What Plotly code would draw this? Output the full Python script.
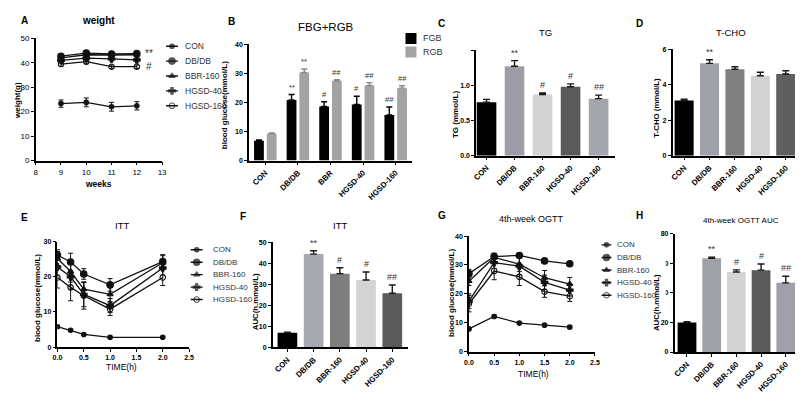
import plotly.graph_objects as go

# ---------------- data ----------------
groups = ["CON", "DB/DB", "BBR-160", "HGSD-40", "HGSD-160"]
b_cats = ["CON", "DB/DB", "BBR", "HGSD-40", "HGSD-160"]

# A: body weight
weeks = [9, 10, 11, 12]
weight_mean = {
    "CON": [23.3, 23.8, 22.0, 22.4],
    "DB/DB": [42.7, 44.0, 43.6, 43.8],
    "BBR-160": [42.0, 43.3, 43.2, 43.3],
    "HGSD-40": [41.0, 41.9, 41.6, 41.2],
    "HGSD-160": [39.5, 40.5, 38.4, 38.4],
}
weight_err = {
    "CON": [1.5, 1.8, 1.8, 1.7],
    "DB/DB": [0.8, 0.8, 0.8, 0.8],
    "BBR-160": [0.8, 0.8, 0.8, 0.8],
    "HGSD-40": [0.8, 0.8, 0.8, 0.8],
    "HGSD-160": [0.9, 0.9, 0.7, 0.7],
}
weight_marks = {"DB/DB": "**", "HGSD-160": "#"}

# B: FBG + RBG
fgb = [6.8, 20.8, 18.6, 19.3, 15.7]
fgb_err = [0.3, 1.9, 1.6, 2.8, 2.7]
rgb = [9.3, 30.3, 27.4, 25.8, 24.9]
rgb_err = [0.2, 1.2, 0.4, 1.0, 0.8]
fgb_marks = ["", "**", "#", "#", "##"]
rgb_marks = ["", "**", "##", "##", "##"]

# C: TG
tg = [0.76, 1.27, 0.87, 0.98, 0.81]
tg_err = [0.04, 0.08, 0.02, 0.04, 0.05]
tg_marks = ["", "**", "#", "#", "##"]

# D: T-CHO
tcho = [3.1, 5.2, 4.87, 4.5, 4.6]
tcho_err = [0.08, 0.2, 0.14, 0.2, 0.18]
tcho_marks = ["", "**", "", "", ""]

# E: ITT
itt_t = [0, 0.25, 0.5, 1.0, 2.0]
itt_mean = {
    "CON": [5.8, 4.8, 3.6, 2.8, 2.8],
    "DB/DB": [26.2, 24.2, 20.8, 17.7, 24.3],
    "BBR-160": [25.2, 21.5, 16.5, 15.0, 24.0],
    "HGSD-40": [22.8, 20.0, 15.0, 11.8, 22.5],
    "HGSD-160": [19.8, 17.0, 14.6, 10.8, 19.8],
}
itt_err = {
    "CON": [0.4, 0.3, 0.3, 0.3, 0.3],
    "DB/DB": [1.5, 2.5, 1.5, 1.8, 2.0],
    "BBR-160": [2.0, 3.0, 2.0, 2.0, 2.0],
    "HGSD-40": [2.5, 3.5, 3.5, 2.0, 2.0],
    "HGSD-160": [3.0, 3.8, 3.8, 1.8, 2.3],
}

# F: ITT AUC
itt_auc = [7.0, 44.4, 35.1, 32.1, 25.8]
itt_auc_err = [0.3, 1.6, 2.8, 3.8, 3.9]
itt_auc_marks = ["", "**", "#", "#", "##"]

# G: OGTT
ogtt_t = [0, 0.5, 1.0, 1.5, 2.0]
ogtt_mean = {
    "CON": [7.9, 12.2, 9.9, 9.2, 8.5],
    "DB/DB": [27.0, 32.9, 33.3, 31.4, 30.4],
    "BBR-160": [24.4, 32.6, 30.3, 25.6, 23.4],
    "HGSD-40": [17.5, 30.8, 29.6, 24.0, 21.3],
    "HGSD-160": [16.6, 27.9, 25.9, 20.8, 19.2],
}
ogtt_err = {
    "CON": [0.3, 0.5, 0.4, 0.4, 0.5],
    "DB/DB": [1.5, 0.8, 0.8, 0.8, 0.8],
    "BBR-160": [1.5, 1.5, 2.5, 2.5, 2.3],
    "HGSD-40": [2.5, 2.0, 3.0, 2.5, 2.0],
    "HGSD-160": [2.8, 3.0, 3.0, 2.0, 1.8],
}

# H: OGTT AUC
ogtt_auc = [20.0, 63.5, 54.2, 55.4, 46.8]
ogtt_auc_err = [0.5, 0.6, 1.4, 4.2, 4.5]
ogtt_auc_marks = ["", "**", "#", "#", "##"]

# ---------------- styling ----------------
W, H = 803, 393
FONT = "Liberation Sans, Arial, sans-serif"
symbols = ["circle", "circle", "triangle-up", "cross", "circle-open"]
sym_sizes = [4.5, 6.5, 5.5, 5.5, 5.5]

c_colors = ["#000000", "#9d9da5", "#d3d3d3", "#5a5a5a", "#a5a5ad"]
d_colors = ["#000000", "#a0a0a8", "#808080", "#d2d2d2", "#5f5f5f"]
f_colors = ["#000000", "#a8a8b0", "#7e7e7e", "#d4d4d4", "#5a5a5a"]
h_colors = ["#000000", "#a0a0a8", "#d3d3d3", "#5a5a5a", "#a0a0a8"]


def aid(letter, n):
    return letter if n == 1 else f"{letter}{n}"


def xdom(l, r):
    return [l / W, r / W]


def ydom(top, bot):
    return [1 - bot / H, 1 - top / H]


tickfont = dict(family=FONT, size=7, color="black", weight="bold")
cat_tickfont = dict(family=FONT, size=7.8, color="black", weight="bold")
axis_common = dict(showline=True, linecolor="black", linewidth=1.5, ticks="outside",
                   ticklen=3, tickwidth=1.2, tickcolor="black", showgrid=False,
                   zeroline=False, tickfont=tickfont, fixedrange=True)

layout = dict(width=W, height=H, margin=dict(l=0, r=0, t=0, b=0),
              paper_bgcolor="white", plot_bgcolor="white", showlegend=False,
              barmode="overlay", font=dict(family=FONT, color="black"))
annotations = []
fig = go.Figure()


def set_axes(n, xd, yd, xr, yr, xkw=None, ykw=None):
    xa = dict(axis_common, domain=xd, range=xr, anchor=aid("y", n))
    ya = dict(axis_common, domain=yd, range=yr, anchor=aid("x", n))
    xa.update(xkw or {})
    ya.update(ykw or {})
    layout["xaxis" if n == 1 else f"xaxis{n}"] = xa
    layout["yaxis" if n == 1 else f"yaxis{n}"] = ya


def ann(text, x, y, size=9, bold=False, angle=0, xanchor="center", color="black"):
    annotations.append(dict(text=text, x=x / W, y=1 - y / H, xref="paper", yref="paper",
                            showarrow=False, textangle=angle, xanchor=xanchor, yanchor="middle",
                            font=dict(family=FONT, size=size, color=color,
                                      weight="bold" if bold else "normal")))


def line_panel(n, xs, means, errs):
    for i, g in enumerate(groups):
        fig.add_trace(go.Scatter(
            x=xs, y=means[g], mode="lines+markers", name=g,
            line=dict(color="#111", width=1.3),
            marker=dict(symbol=symbols[i], size=sym_sizes[i], color="#111",
                        line=dict(color="#111", width=1.1)),
            error_y=dict(type="data", array=errs[g], color="#111", thickness=1, width=2.5),
            xaxis=aid("x", n), yaxis=aid("y", n), showlegend=False))


def bar_panel(n, cats, vals, errs, colors, marks, width):
    idx = list(range(len(cats)))
    fig.add_trace(go.Bar(
        x=idx, y=vals, width=width, marker=dict(color=colors, line=dict(width=0)),
        error_y=dict(type="data", array=errs, arrayminus=[0] * len(errs), symmetric=False,
                     color="#1a1a1a", thickness=1.4, width=3.5),
        xaxis=aid("x", n), yaxis=aid("y", n), showlegend=False))
    for i, m in enumerate(marks):
        if m:
            annotations.append(dict(text=m, x=i, y=vals[i] + errs[i], xref=aid("x", n),
                                    yref=aid("y", n), yanchor="bottom", showarrow=False, yshift=1,
                                    font=dict(family=FONT, size=9, color="#333")))


def legend_block(n, names, x_marker, x_text, y_top, step, kind, colors=None, half=6, size=8):
    k = len(names)
    idx = list(range(k))
    layout[f"xaxis{n}"] = dict(domain=xdom(x_marker - 20, x_marker + 60), range=[-20, 60],
                               visible=False, fixedrange=True, anchor=f"y{n}")
    layout[f"yaxis{n}"] = dict(domain=ydom(y_top - step / 2, y_top + (k - 0.5) * step),
                               range=[k - 0.5, -0.5], visible=False, fixedrange=True,
                               anchor=f"x{n}")
    if kind == "line":
        fig.add_trace(go.Scatter(
            x=[0] * k, y=idx, mode="markers",
            marker=dict(symbol=symbols[:k], size=sym_sizes[:k], color="#111",
                        line=dict(color="#111", width=1.1)),
            error_x=dict(type="constant", value=half, width=0, thickness=1.4, color="#111"),
            xaxis=f"x{n}", yaxis=f"y{n}", showlegend=False, hoverinfo="skip"))
    else:
        fig.add_trace(go.Scatter(
            x=[0] * k, y=idx, mode="markers",
            marker=dict(symbol="square", size=11, color=colors, line=dict(width=0)),
            xaxis=f"x{n}", yaxis=f"y{n}", showlegend=False, hoverinfo="skip"))
    for i, name in enumerate(names):
        annotations.append(dict(text=name, x=x_text - x_marker, y=i, xref=f"x{n}", yref=f"y{n}",
                                xanchor="left", yanchor="middle", showarrow=False,
                                font=dict(family=FONT, size=size, color="#333")))


# ---------------- A: weight ----------------
set_axes(1, xdom(23, 151), ydom(27, 152), [8, 13], [0, 50],
         dict(tickvals=[8, 9, 10, 11, 12, 13], tickfont=dict(tickfont, size=8, weight="normal")),
         dict(dtick=10, tickfont=dict(tickfont, size=8, weight="normal")))
line_panel(1, weeks, weight_mean, weight_err)
for g, m in weight_marks.items():
    annotations.append(dict(text=m, x=12.5, y=weight_mean[g][-1], xref="x", yref="y",
                            xanchor="center", yanchor="middle", showarrow=False,
                            font=dict(family=FONT, size=10, color="#333")))
legend_block(9, groups, 161, 172, 35, 15.25, "line", size=8.5)
ann("A", 12, 9, 10, True)
ann("weight", 87, 9, 10, True)
ann("weeks", 87, 176, 8.5, True)
ann("weight(g)", 5, 90, 8, True, -90)

# ---------------- B: FBG+RGB ----------------
idx5 = list(range(5))
set_axes(2, xdom(239, 404), ydom(33, 152), [-0.5, 4.5], [0, 40],
         dict(tickvals=idx5, ticktext=b_cats, tickangle=-45, tickfont=cat_tickfont), dict(dtick=10))
fig.add_trace(go.Bar(x=idx5, y=fgb, width=0.3, offset=-0.345, name="FGB",
                     marker=dict(color="#000000", line=dict(width=0)),
                     error_y=dict(type="data", array=fgb_err, arrayminus=[0] * 5, symmetric=False,
                                  color="#000000", thickness=1.4, width=3),
                     xaxis="x2", yaxis="y2", showlegend=False))
fig.add_trace(go.Bar(x=idx5, y=rgb, width=0.3, offset=0.045, name="RGB",
                     marker=dict(color="#a3a3a3", line=dict(width=0)),
                     error_y=dict(type="data", array=rgb_err, arrayminus=[0] * 5, symmetric=False,
                                  color="#8a8a8a", thickness=1.4, width=3),
                     xaxis="x2", yaxis="y2", showlegend=False))
for i in idx5:
    for vals, errs, marks, dx in ((fgb, fgb_err, fgb_marks, -0.195), (rgb, rgb_err, rgb_marks, 0.195)):
        if marks[i]:
            annotations.append(dict(text=marks[i], x=i + dx, y=vals[i] + errs[i], xref="x2",
                                    yref="y2", yanchor="bottom", showarrow=False, yshift=1,
                                    font=dict(family=FONT, size=7.5, color="#333")))
legend_block(10, ["FGB", "RGB"], 403, 413, 27, 14, "box", colors=["#000000", "#a3a3a3"], size=9)
ann("B", 221, 10, 10, True)
ann("FBG+RGB", 317, 15, 11.5)
ann("blood glucose(mmol/L)", 214, 95, 8, True, -90)

# ---------------- C: TG ----------------
set_axes(3, xdom(469, 610), ydom(39, 147), [-0.37, 4.6], [0, 1.5],
         dict(tickvals=idx5, ticktext=groups, tickangle=-45, tickfont=cat_tickfont),
         dict(dtick=0.5, tickformat=".1f"))
bar_panel(3, groups, tg, tg_err, c_colors, tg_marks, 0.7)
ann("C", 434, 12, 10, True)
ann("TG", 539, 21, 9.5)
ann("TG (mmol/L)", 448, 105, 8, True, -90)

# ---------------- D: T-CHO ----------------
set_axes(4, xdom(668, 801), ydom(38, 147), [-0.45, 4.72], [0, 6],
         dict(tickvals=idx5, ticktext=groups, tickangle=-45, tickfont=cat_tickfont), dict(dtick=2))
bar_panel(4, groups, tcho, tcho_err, d_colors, tcho_marks, 0.75)
ann("D", 634, 12, 10, True)
ann("T-CHO", 727, 21, 9.5)
ann("T-CHO (mmol/L)", 652, 98, 7.8, True, -90)

# ---------------- E: ITT ----------------
set_axes(5, xdom(45, 178.3), ydom(235, 343), [0, 2.5], [0, 30],
         dict(dtick=0.5, tickformat=".1f"), dict(dtick=10))
line_panel(5, itt_t, itt_mean, itt_err)
legend_block(11, groups, 186, 201, 243.3, 12.75, "line", size=8)
ann("E", 12, 210, 10, True)
ann("ITT", 110, 219, 9.5)
ann("TIME(h)", 110, 363, 8.5)
ann("blood glucose(mmol/L)", 25, 293, 8, True, -90)

# ---------------- F: ITT AUC ----------------
set_axes(6, xdom(263, 400), ydom(235.7, 343.3), [-0.56, 4.6], [0, 50],
         dict(tickvals=idx5, ticktext=groups, tickangle=-45, tickfont=cat_tickfont), dict(dtick=10))
bar_panel(6, groups, itt_auc, itt_auc_err, f_colors, itt_auc_marks, 0.75)
ann("F", 233, 209, 10, True)
ann("ITT", 331, 219, 9.5)
ann("AUC(h.mmol/L)", 245, 296, 7.8, True, -90)

# ---------------- G: OGTT ----------------
set_axes(7, xdom(461.7, 589.3), ydom(229.3, 347.7), [0, 2.5], [0, 40],
         dict(dtick=0.5, tickformat=".1f"), dict(dtick=10))
line_panel(7, ogtt_t, ogtt_mean, ogtt_err)
legend_block(12, groups, 601, 610, 238.3, 12.9, "line", half=5, size=8)
ann("G", 434, 208, 10, True)
ann("4th-week OGTT", 525, 212, 9)
ann("TIME(h)", 527, 370, 8.5)
ann("blood glucose(mmol/L)", 444, 287, 8, True, -90)

# ---------------- H: OGTT AUC ----------------
set_axes(8, xdom(670, 801), ydom(227, 348), [-0.5, 4.74], [0, 80],
         dict(tickvals=idx5, ticktext=groups, tickangle=-45, tickfont=cat_tickfont), dict(dtick=20))
bar_panel(8, groups, ogtt_auc, ogtt_auc_err, h_colors, ogtt_auc_marks, 0.76)
ann("H", 634, 208, 10, True)
ann("4th-week OGTT AUC", 737, 213, 8)
ann("AUC(h.mmol/L)", 651, 297, 7.8, True, -90)

layout["annotations"] = annotations
fig.update_layout(**layout)
fig.write_html("out.html")
